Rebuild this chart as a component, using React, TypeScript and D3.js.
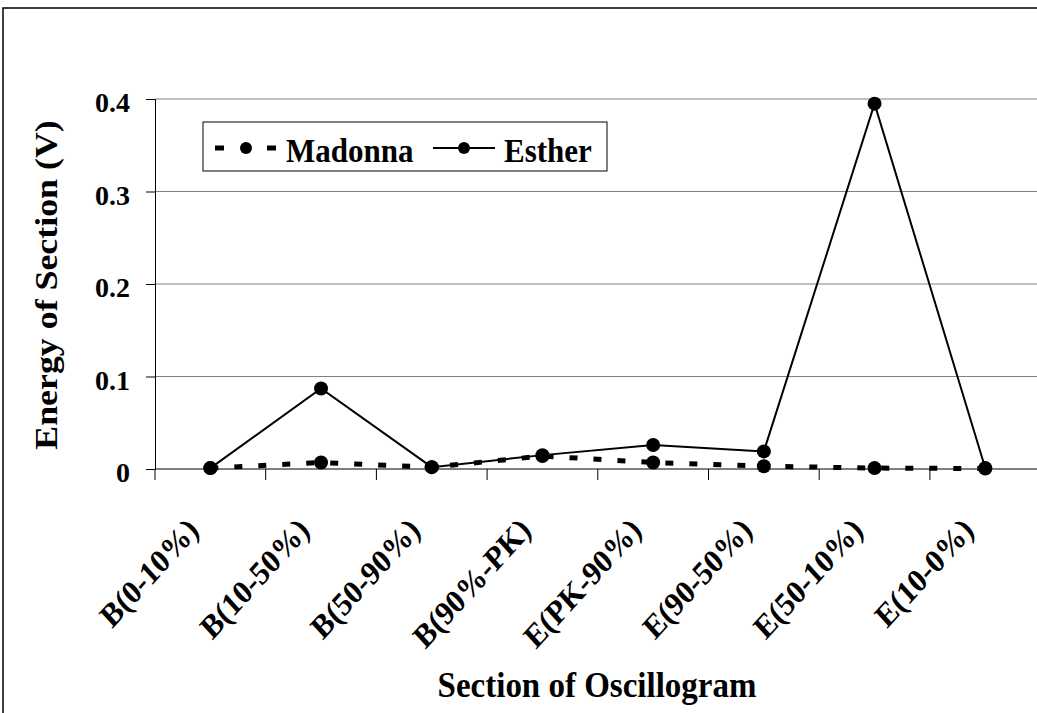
import React, { useEffect, useRef } from "react";
import * as d3 from "d3";

const categories = [
    "B(0-10%)",
    "B(10-50%)",
    "B(50-90%)",
    "B(90%-PK)",
    "E(PK-90%)",
    "E(90-50%)",
    "E(50-10%)",
    "E(10-0%)",
];
const madonna = [0.001, 0.007, 0.002, 0.014, 0.007, 0.003, 0.001, 0.0005];
const esther = [0.001, 0.087, 0.002, 0.015, 0.026, 0.019, 0.395, 0.001];
const yTicks = [0, 0.1, 0.2, 0.3, 0.4];

const FONT = "'Liberation Serif', 'Times New Roman', serif";

const App = () => {
    const svgRef = useRef<SVGSVGElement>(null);

    useEffect(() => {
        document.body.style.margin = "0";
        const svg = d3.select(svgRef.current);
        svg.selectAll("*").remove();

        const left = 155;
        const bw = 110.7;
        const top = 99;
        const bottom = 469;

        const xScale = d3
            .scaleBand()
            .domain(categories)
            .range([left, left + bw * categories.length])
            .padding(0);
        const yScale = d3.scaleLinear().domain([0, 0.4]).range([bottom, top]);
        const cx = (c: string) => (xScale(c) as number) + xScale.bandwidth() / 2;

        // outer chart frame
        svg.append("rect")
            .attr("x", 3)
            .attr("y", 8)
            .attr("width", 1200)
            .attr("height", 900)
            .attr("fill", "white")
            .attr("stroke", "#000")
            .attr("stroke-width", 1.5);

        // horizontal gridlines
        svg.append("g")
            .selectAll("line")
            .data(yTicks.filter((t) => t > 0))
            .enter()
            .append("line")
            .attr("x1", left)
            .attr("x2", 1040)
            .attr("y1", (d) => yScale(d))
            .attr("y2", (d) => yScale(d))
            .attr("stroke", "#808080")
            .attr("stroke-width", 1);

        // y axis
        const yAxis = svg
            .append("g")
            .attr("transform", `translate(${left},0)`)
            .call(d3.axisLeft(yScale).tickValues(yTicks).tickSize(9).tickFormat(() => ""));
        yAxis.select(".domain").attr("stroke", "#000").attr("stroke-width", 1);
        yAxis.selectAll(".tick line").attr("stroke", "#000");

        svg.append("g")
            .selectAll("text")
            .data(yTicks)
            .enter()
            .append("text")
            .attr("x", 130)
            .attr("y", (d) => yScale(d) + 13)
            .attr("text-anchor", "end")
            .attr("font-family", FONT)
            .attr("font-weight", "bold")
            .attr("font-size", 28)
            .text((d) => (d === 0 ? "0" : d3.format(".1f")(d)));

        // x axis line and ticks at band edges
        svg.append("line")
            .attr("x1", left)
            .attr("x2", 1040)
            .attr("y1", bottom)
            .attr("y2", bottom)
            .attr("stroke", "#000")
            .attr("stroke-width", 1);
        svg.append("g")
            .selectAll("line")
            .data(categories)
            .enter()
            .append("line")
            .attr("x1", (d) => xScale(d) as number)
            .attr("x2", (d) => xScale(d) as number)
            .attr("y1", bottom)
            .attr("y2", bottom + 11)
            .attr("stroke", "#000");

        // x labels (slightly stretched vertically like the original)
        svg.append("g")
            .selectAll("text")
            .data(categories)
            .enter()
            .append("text")
            .attr("transform", (d) => `translate(${cx(d) - 10},532) scale(1,1.1) rotate(-45)`)
            .attr("text-anchor", "end")
            .attr("font-family", FONT)
            .attr("font-weight", "bold")
            .attr("font-size", 30)
            .text((d) => d);

        // series lines
        const line = d3
            .line<number>()
            .x((d, i) => cx(categories[i]))
            .y((d) => yScale(d));

        svg.append("path")
            .datum(madonna)
            .attr("fill", "none")
            .attr("stroke", "#000")
            .attr("stroke-width", 5)
            .attr("stroke-dasharray", "8,16")
            .attr("d", line);
        svg.append("g")
            .selectAll("circle")
            .data(madonna)
            .enter()
            .append("circle")
            .attr("cx", (d, i) => cx(categories[i]))
            .attr("cy", (d) => yScale(d))
            .attr("r", 7)
            .attr("fill", "#000");

        svg.append("path")
            .datum(esther)
            .attr("fill", "none")
            .attr("stroke", "#000")
            .attr("stroke-width", 2)
            .attr("d", line);
        svg.append("g")
            .selectAll("circle")
            .data(esther)
            .enter()
            .append("circle")
            .attr("cx", (d, i) => cx(categories[i]))
            .attr("cy", (d) => yScale(d))
            .attr("r", 7)
            .attr("fill", "#000");

        // legend
        const lg = svg.append("g");
        lg.append("rect")
            .attr("x", 203)
            .attr("y", 122)
            .attr("width", 404)
            .attr("height", 49)
            .attr("fill", "white")
            .attr("stroke", "#000")
            .attr("stroke-width", 1);
        lg.append("line")
            .attr("x1", 215)
            .attr("x2", 277)
            .attr("y1", 148)
            .attr("y2", 148)
            .attr("stroke", "#000")
            .attr("stroke-width", 5)
            .attr("stroke-dasharray", "9,17");
        lg.append("circle").attr("cx", 246).attr("cy", 148).attr("r", 6).attr("fill", "#000");
        lg.append("text")
            .attr("transform", "translate(286,162) scale(1,1.08)")
            .attr("font-family", FONT)
            .attr("font-weight", "bold")
            .attr("font-size", 31)
            .text("Madonna");
        lg.append("line")
            .attr("x1", 433)
            .attr("x2", 495)
            .attr("y1", 148)
            .attr("y2", 148)
            .attr("stroke", "#000")
            .attr("stroke-width", 2);
        lg.append("circle").attr("cx", 464).attr("cy", 148).attr("r", 6).attr("fill", "#000");
        lg.append("text")
            .attr("transform", "translate(504,162) scale(1,1.08)")
            .attr("font-family", FONT)
            .attr("font-weight", "bold")
            .attr("font-size", 31)
            .text("Esther");

        // axis titles
        svg.append("text")
            .attr("transform", "translate(57,285) scale(1,1.12) rotate(-90)")
            .attr("text-anchor", "middle")
            .attr("font-family", FONT)
            .attr("font-weight", "bold")
            .attr("font-size", 32)
            .text("Energy of Section (V)");
        svg.append("text")
            .attr("transform", "translate(597,697) scale(1,1.08)")
            .attr("text-anchor", "middle")
            .attr("font-family", FONT)
            .attr("font-weight", "bold")
            .attr("font-size", 33)
            .text("Section of Oscillogram");
    }, []);

    return <svg ref={svgRef} width={1037} height={713} style={{ display: "block" }}></svg>;
};

export default App;
